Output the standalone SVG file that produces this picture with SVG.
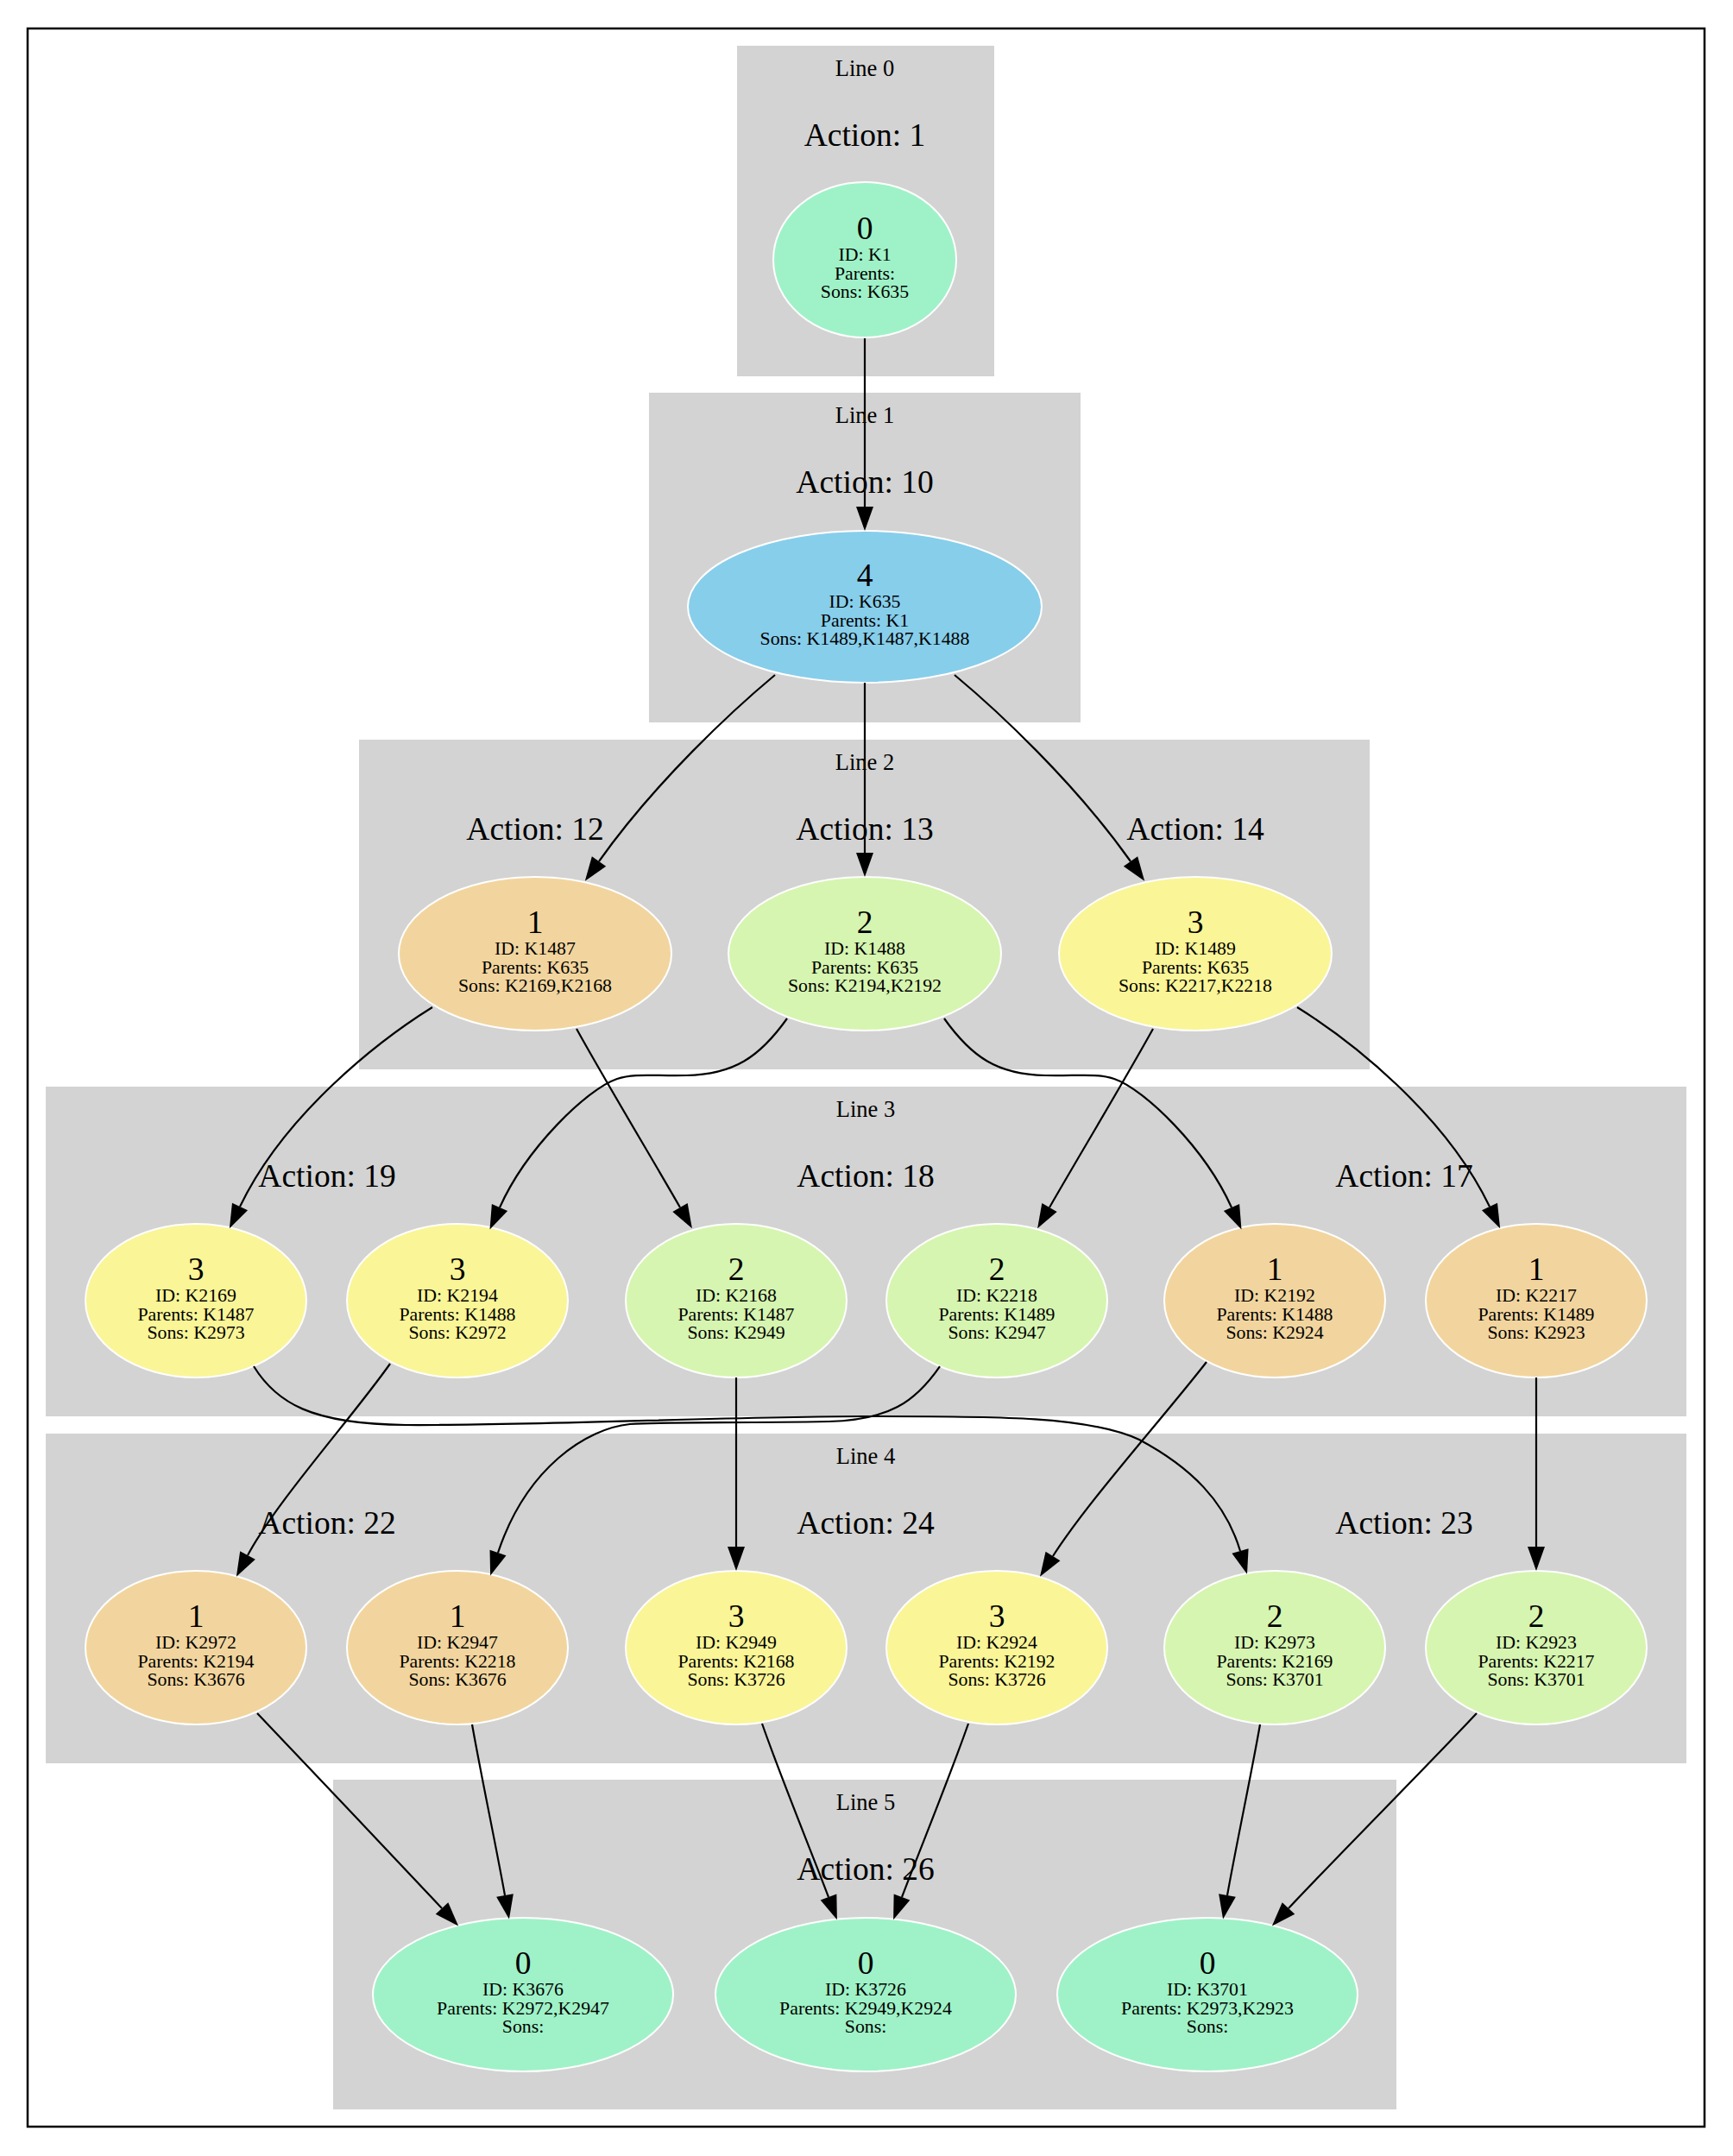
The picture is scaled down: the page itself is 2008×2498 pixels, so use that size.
<svg xmlns="http://www.w3.org/2000/svg" width="2008" height="2498" viewBox="0 0 2008 2498">
<defs>
<style>
.frame{fill:#ffffff;stroke:#000000;stroke-width:2.5}
.cl{fill:#d3d3d3;stroke:none}
.ll{font-family:"Liberation Serif","Times New Roman",serif;font-size:26.5px;text-anchor:middle;fill:#000}
.al{font-family:"Liberation Serif","Times New Roman",serif;font-size:37.5px;text-anchor:middle;fill:#000}
.nd{stroke:#ffffff;stroke-width:2}
.num{font-family:"Liberation Serif","Times New Roman",serif;font-size:37.5px;text-anchor:middle;fill:#000}
.dt{font-family:"Liberation Serif","Times New Roman",serif;font-size:21.8px;text-anchor:middle;fill:#000}
.c0{fill:#9ff2c7}
.c1{fill:#f2d59e}
.c2{fill:#d6f5b0}
.c3{fill:#faf597}
.c4{fill:#87ceeb}
.e{fill:none;stroke:#000;stroke-width:2.2}
</style>
<marker id="arr" markerUnits="userSpaceOnUse" markerWidth="30" markerHeight="22" refX="0" refY="10" orient="auto" overflow="visible">
<path d="M0,0 L28,10 L0,20 Z" fill="#000"/>
</marker>
</defs>
<rect x="0" y="0" width="2008" height="2498" fill="#ffffff"/>
<rect class="frame" x="32" y="33" width="1943" height="2431"/>

<g id="clusters">
<g id="cluster_line0"><rect class="cl" x="854" y="53" width="298" height="383"/><text class="ll" x="1002" y="88">Line 0</text></g>
<g id="cluster_line1"><rect class="cl" x="752" y="455" width="500" height="382"/><text class="ll" x="1002" y="490">Line 1</text></g>
<g id="cluster_line2"><rect class="cl" x="416" y="857" width="1171" height="382"/><text class="ll" x="1002" y="892">Line 2</text></g>
<g id="cluster_line3"><rect class="cl" x="53" y="1259" width="1901" height="382"/><text class="ll" x="1003" y="1294">Line 3</text></g>
<g id="cluster_line4"><rect class="cl" x="53" y="1661" width="1901" height="382"/><text class="ll" x="1003" y="1696">Line 4</text></g>
<g id="cluster_line5"><rect class="cl" x="386" y="2062" width="1232" height="382"/><text class="ll" x="1003" y="2097">Line 5</text></g>
</g>

<g id="actions">
<text class="al" x="1002" y="169">Action: 1</text>
<text class="al" x="1002" y="571">Action: 10</text>
<text class="al" x="620" y="973">Action: 12</text>
<text class="al" x="1002" y="973">Action: 13</text>
<text class="al" x="1385" y="973">Action: 14</text>
<text class="al" x="379" y="1375">Action: 19</text>
<text class="al" x="1003" y="1375">Action: 18</text>
<text class="al" x="1627" y="1375">Action: 17</text>
<text class="al" x="379" y="1777">Action: 22</text>
<text class="al" x="1003" y="1777">Action: 24</text>
<text class="al" x="1627" y="1777">Action: 23</text>
<text class="al" x="1003" y="2178">Action: 26</text>
</g>

<g id="K1"><ellipse class="nd c0" cx="1002" cy="301" rx="106" ry="90"/><text class="num" x="1002" y="277">0</text><text class="dt" x="1002" y="302">ID: K1</text><text class="dt" x="1002" y="324">Parents:</text><text class="dt" x="1002" y="345">Sons: K635</text></g>

<g id="K635"><ellipse class="nd c4" cx="1002" cy="703" rx="205" ry="88"/><text class="num" x="1002" y="679">4</text><text class="dt" x="1002" y="704">ID: K635</text><text class="dt" x="1002" y="726">Parents: K1</text><text class="dt" x="1002" y="747">Sons: K1489,K1487,K1488</text></g>

<g id="K1487"><ellipse class="nd c1" cx="620" cy="1105" rx="158" ry="89"/><text class="num" x="620" y="1081">1</text><text class="dt" x="620" y="1106">ID: K1487</text><text class="dt" x="620" y="1128">Parents: K635</text><text class="dt" x="620" y="1149">Sons: K2169,K2168</text></g>
<g id="K1488"><ellipse class="nd c2" cx="1002" cy="1105" rx="158" ry="89"/><text class="num" x="1002" y="1081">2</text><text class="dt" x="1002" y="1106">ID: K1488</text><text class="dt" x="1002" y="1128">Parents: K635</text><text class="dt" x="1002" y="1149">Sons: K2194,K2192</text></g>
<g id="K1489"><ellipse class="nd c3" cx="1385" cy="1105" rx="158" ry="89"/><text class="num" x="1385" y="1081">3</text><text class="dt" x="1385" y="1106">ID: K1489</text><text class="dt" x="1385" y="1128">Parents: K635</text><text class="dt" x="1385" y="1149">Sons: K2217,K2218</text></g>

<g id="K2169"><ellipse class="nd c3" cx="227" cy="1507" rx="128" ry="89"/><text class="num" x="227" y="1483">3</text><text class="dt" x="227" y="1508">ID: K2169</text><text class="dt" x="227" y="1530">Parents: K1487</text><text class="dt" x="227" y="1551">Sons: K2973</text></g>
<g id="K2194"><ellipse class="nd c3" cx="530" cy="1507" rx="128" ry="89"/><text class="num" x="530" y="1483">3</text><text class="dt" x="530" y="1508">ID: K2194</text><text class="dt" x="530" y="1530">Parents: K1488</text><text class="dt" x="530" y="1551">Sons: K2972</text></g>
<g id="K2168"><ellipse class="nd c2" cx="853" cy="1507" rx="128" ry="89"/><text class="num" x="853" y="1483">2</text><text class="dt" x="853" y="1508">ID: K2168</text><text class="dt" x="853" y="1530">Parents: K1487</text><text class="dt" x="853" y="1551">Sons: K2949</text></g>
<g id="K2218"><ellipse class="nd c2" cx="1155" cy="1507" rx="128" ry="89"/><text class="num" x="1155" y="1483">2</text><text class="dt" x="1155" y="1508">ID: K2218</text><text class="dt" x="1155" y="1530">Parents: K1489</text><text class="dt" x="1155" y="1551">Sons: K2947</text></g>
<g id="K2192"><ellipse class="nd c1" cx="1477" cy="1507" rx="128" ry="89"/><text class="num" x="1477" y="1483">1</text><text class="dt" x="1477" y="1508">ID: K2192</text><text class="dt" x="1477" y="1530">Parents: K1488</text><text class="dt" x="1477" y="1551">Sons: K2924</text></g>
<g id="K2217"><ellipse class="nd c1" cx="1780" cy="1507" rx="128" ry="89"/><text class="num" x="1780" y="1483">1</text><text class="dt" x="1780" y="1508">ID: K2217</text><text class="dt" x="1780" y="1530">Parents: K1489</text><text class="dt" x="1780" y="1551">Sons: K2923</text></g>

<g id="K2972"><ellipse class="nd c1" cx="227" cy="1909" rx="128" ry="89"/><text class="num" x="227" y="1885">1</text><text class="dt" x="227" y="1910">ID: K2972</text><text class="dt" x="227" y="1932">Parents: K2194</text><text class="dt" x="227" y="1953">Sons: K3676</text></g>
<g id="K2947"><ellipse class="nd c1" cx="530" cy="1909" rx="128" ry="89"/><text class="num" x="530" y="1885">1</text><text class="dt" x="530" y="1910">ID: K2947</text><text class="dt" x="530" y="1932">Parents: K2218</text><text class="dt" x="530" y="1953">Sons: K3676</text></g>
<g id="K2949"><ellipse class="nd c3" cx="853" cy="1909" rx="128" ry="89"/><text class="num" x="853" y="1885">3</text><text class="dt" x="853" y="1910">ID: K2949</text><text class="dt" x="853" y="1932">Parents: K2168</text><text class="dt" x="853" y="1953">Sons: K3726</text></g>
<g id="K2924"><ellipse class="nd c3" cx="1155" cy="1909" rx="128" ry="89"/><text class="num" x="1155" y="1885">3</text><text class="dt" x="1155" y="1910">ID: K2924</text><text class="dt" x="1155" y="1932">Parents: K2192</text><text class="dt" x="1155" y="1953">Sons: K3726</text></g>
<g id="K2973"><ellipse class="nd c2" cx="1477" cy="1909" rx="128" ry="89"/><text class="num" x="1477" y="1885">2</text><text class="dt" x="1477" y="1910">ID: K2973</text><text class="dt" x="1477" y="1932">Parents: K2169</text><text class="dt" x="1477" y="1953">Sons: K3701</text></g>
<g id="K2923"><ellipse class="nd c2" cx="1780" cy="1909" rx="128" ry="89"/><text class="num" x="1780" y="1885">2</text><text class="dt" x="1780" y="1910">ID: K2923</text><text class="dt" x="1780" y="1932">Parents: K2217</text><text class="dt" x="1780" y="1953">Sons: K3701</text></g>

<g id="K3676"><ellipse class="nd c0" cx="606" cy="2311" rx="174" ry="89"/><text class="num" x="606" y="2287">0</text><text class="dt" x="606" y="2312">ID: K3676</text><text class="dt" x="606" y="2334">Parents: K2972,K2947</text><text class="dt" x="606" y="2355">Sons:</text></g>
<g id="K3726"><ellipse class="nd c0" cx="1003" cy="2311" rx="174" ry="89"/><text class="num" x="1003" y="2287">0</text><text class="dt" x="1003" y="2312">ID: K3726</text><text class="dt" x="1003" y="2334">Parents: K2949,K2924</text><text class="dt" x="1003" y="2355">Sons:</text></g>
<g id="K3701"><ellipse class="nd c0" cx="1399" cy="2311" rx="174" ry="89"/><text class="num" x="1399" y="2287">0</text><text class="dt" x="1399" y="2312">ID: K3701</text><text class="dt" x="1399" y="2334">Parents: K2973,K2923</text><text class="dt" x="1399" y="2355">Sons:</text></g>

<g id="connectors">
<path class="e" marker-end="url(#arr)" d="M1002,392 L1002,587"/>
<path class="e" marker-end="url(#arr)" d="M898,782 C850,822 760,905 694,998"/>
<path class="e" marker-end="url(#arr)" d="M1002,791 L1002,988"/>
<path class="e" marker-end="url(#arr)" d="M1106,782 C1154,822 1244,905 1310,998"/>
<path class="e" marker-end="url(#arr)" d="M501,1167 C440,1205 330,1290 278,1398"/>
<path class="e" marker-end="url(#arr)" d="M668,1192 C700,1250 760,1350 788,1399"/>
<path class="e" marker-end="url(#arr)" d="M912,1180 C880,1225 850,1245 795,1246 C760,1247 735,1243 715,1250 C680,1262 610,1330 579,1399"/>
<path class="e" marker-end="url(#arr)" d="M1094,1180 C1126,1225 1156,1245 1211,1246 C1246,1247 1271,1243 1291,1250 C1326,1262 1396,1330 1427,1399"/>
<path class="e" marker-end="url(#arr)" d="M1336,1192 C1304,1250 1244,1350 1216,1399"/>
<path class="e" marker-end="url(#arr)" d="M1503,1167 C1564,1205 1674,1290 1726,1398"/>
<path class="e" marker-end="url(#arr)" d="M294,1583 C320,1625 360,1650 470,1651 C620,1652 850,1641 1000,1641 C1150,1641 1260,1640 1320,1668 C1380,1700 1420,1740 1437,1797"/>
<path class="e" marker-end="url(#arr)" d="M452,1580 C410,1640 320,1740 287,1802"/>
<path class="e" marker-end="url(#arr)" d="M853,1596 L853,1792"/>
<path class="e" marker-end="url(#arr)" d="M1089,1583 C1060,1625 1030,1645 960,1647 C850,1649 780,1647 730,1650 C680,1655 610,1700 577,1799"/>
<path class="e" marker-end="url(#arr)" d="M1398,1578 C1350,1640 1260,1740 1220,1803"/>
<path class="e" marker-end="url(#arr)" d="M1780,1596 L1780,1792"/>
<path class="e" marker-end="url(#arr)" d="M298,1985 C360,2050 450,2145 512,2211"/>
<path class="e" marker-end="url(#arr)" d="M547,1998 C558,2060 575,2140 585,2196"/>
<path class="e" marker-end="url(#arr)" d="M883,1997 C905,2060 940,2145 960,2198"/>
<path class="e" marker-end="url(#arr)" d="M1122,1997 C1100,2060 1065,2145 1045,2198"/>
<path class="e" marker-end="url(#arr)" d="M1460,1998 C1449,2060 1432,2140 1422,2196"/>
<path class="e" marker-end="url(#arr)" d="M1711,1985 C1650,2050 1555,2145 1493,2211"/>
</g>
</svg>
